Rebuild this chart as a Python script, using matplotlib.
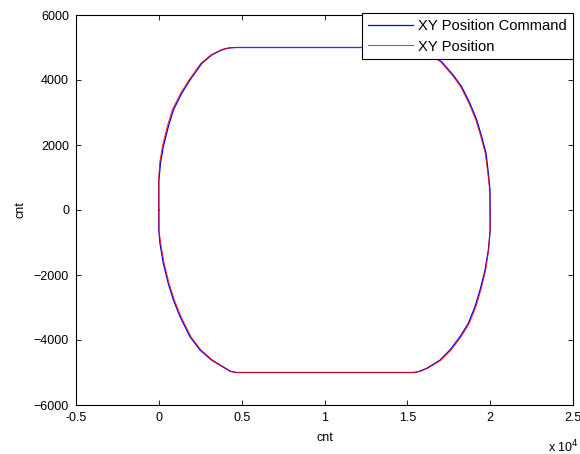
import matplotlib
matplotlib.use("Agg")
import matplotlib.pyplot as plt
from matplotlib.ticker import FuncFormatter

plt.rcParams['font.family'] = ['Liberation Sans', 'DejaVu Sans']

# XY Position Command (blue)
cmd_x = [0, 0, 100, 270, 570, 880, 1380, 1880, 2590, 3190, 3700, 4000, 4300, 4650,
         15350, 15700, 16200, 17070, 17770, 18280, 18780, 19190, 19490, 19750, 19890, 19990, 20000,
         20000, 19890, 19690, 19390, 19080, 18680, 18180, 17570, 16970, 16170, 15750, 15400,
         4650, 4300, 4000, 3190, 2490, 1880, 1280, 880, 570, 270, 70, 0, 0]
cmd_y = [0, 900, 1440, 1950, 2560, 3080, 3590, 4000, 4510, 4770, 4900, 4960, 4990, 5000,
         5000, 4980, 4870, 4560, 4150, 3790, 3280, 2770, 2250, 1750, 1130, 620, 0,
         -620, -1230, -1850, -2460, -2980, -3490, -3900, -4310, -4620, -4870, -4960, -5000,
         -5000, -4960, -4870, -4620, -4310, -3900, -3280, -2770, -2260, -1640, -1030, -620, 0]

# XY Position (red, measured)
pos_x = [0, -10, 50, 210, 500, 810, 1310, 1820, 2530, 3140, 3650, 3960, 4270, 4620,
         15320, 15660, 16150, 17010, 17710, 18220, 18720, 19130, 19440, 19700, 19860, 19970, 19990,
         20000, 19910, 19730, 19440, 19140, 18740, 18250, 17640, 17030, 16230, 15800, 15440,
         4680, 4340, 4050, 3250, 2550, 1940, 1340, 940, 620, 320, 110, 10, 0]
pos_y = [0, 900, 1440, 1950, 2560, 3080, 3590, 4000, 4510, 4770, 4900, 4960, 4990, 5000,
         5000, 4980, 4870, 4560, 4150, 3790, 3280, 2770, 2250, 1750, 1130, 620, 0,
         -620, -1230, -1850, -2460, -2980, -3490, -3900, -4310, -4620, -4870, -4960, -5000,
         -5000, -4960, -4870, -4620, -4310, -3900, -3280, -2770, -2260, -1640, -1030, -620, 0]

x_ticks = [-5000, 0, 5000, 10000, 15000, 20000, 25000]
y_ticks = [-6000, -4000, -2000, 0, 2000, 4000, 6000]

fig = plt.figure(figsize=(5.8, 4.54), dpi=100)
ax = fig.add_axes([76/580, 49/454, 497/580, 390/454])

ax.plot(cmd_x, cmd_y, color='#0000ff', lw=0.9, label='XY Position Command')
ax.plot(pos_x, pos_y, color='#ff0000', lw=0.7, alpha=0.85, label='XY Position')

ax.set_xlim(-5000, 25000)
ax.set_ylim(-6000, 6000)
ax.set_xticks(x_ticks)
ax.set_yticks(y_ticks)
ax.xaxis.set_major_formatter(FuncFormatter(lambda v, p: ('%g' % (v / 1e4))))
ax.tick_params(direction='in', length=3.5, width=0.6, top=True, right=True,
               labelsize=9, pad=5)
for s in ax.spines.values():
    s.set_linewidth(0.8)

ax.set_xlabel('cnt', fontsize=9, labelpad=6)
ax.set_ylabel('cnt', fontsize=9, labelpad=5)
fig.text(548/580, 1 - 447/454, 'x 10$^{4}$', fontsize=9, ha='left', va='center')

leg = ax.legend(loc='upper right', bbox_to_anchor=(1.0, 1.005), borderaxespad=0,
                fontsize=10.6, frameon=True, fancybox=False, handlelength=3.1,
                handletextpad=0.35, borderpad=0.4, labelspacing=0.45)
leg.get_frame().set_edgecolor('black')
leg.get_frame().set_linewidth(0.8)
leg.get_frame().set_alpha(1)

fig.savefig('out.png', dpi=100)
